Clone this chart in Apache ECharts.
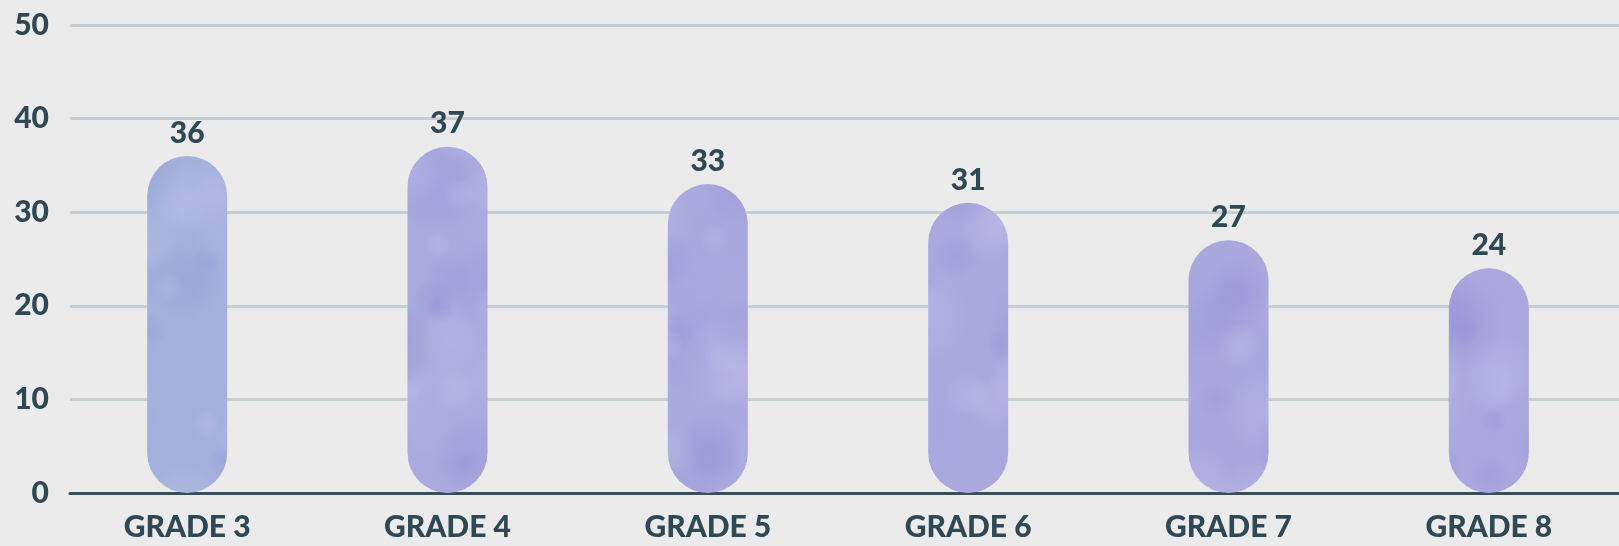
<!DOCTYPE html>
<html>
<head>
<meta charset="utf-8">
<script src="https://cdn.jsdelivr.net/npm/echarts@6/dist/echarts.min.js"></script>
<style>
html,body{margin:0;padding:0;background:#ebebeb;}
#c{width:1619px;height:546px;}
</style>
</head>
<body>
<div id="c"></div>
<script>
const categories = ['GRADE 3','GRADE 4','GRADE 5','GRADE 6','GRADE 7','GRADE 8'];
const values = [36, 37, 33, 31, 27, 24];
const yTicks = [0, 10, 20, 30, 40, 50];

const textColor = '#2e4855';
const font = 'Lato, "Open Sans", sans-serif';

// soft watercolor-like texture (styling only), anchored to the chart canvas
function makeTexture(w, h) {
  const cv = document.createElement('canvas');
  cv.width = w; cv.height = h;
  const g = cv.getContext('2d');
  const base = g.createLinearGradient(0, 0, w, 0);
  base.addColorStop(0, '#a4b0dc');
  base.addColorStop(0.3, '#aba9de');
  base.addColorStop(1, '#aca7de');
  g.fillStyle = base;
  g.fillRect(0, 0, w, h);
  const cols = [[140, 132, 208, 0.22], [196, 196, 238, 0.28], [124, 114, 196, 0.16], [206, 202, 240, 0.24], [160, 168, 222, 0.2]];
  for (let i = 0; i < 420; i++) {
    const x = Math.abs((Math.sin(i * 12.9898) * 43758.5453) % 1);
    const y = Math.abs((Math.sin(i * 78.233) * 12345.6789) % 1);
    const r = 12 + Math.abs((Math.sin(i * 3.17) * 999.1) % 1) * 40;
    const px = x * w, py = y * h;
    const c = cols[i % cols.length];
    const rg = g.createRadialGradient(px, py, 0, px, py, r);
    rg.addColorStop(0, `rgba(${c[0]},${c[1]},${c[2]},${c[3]})`);
    rg.addColorStop(0.6, `rgba(${c[0]},${c[1]},${c[2]},${c[3] * 0.6})`);
    rg.addColorStop(1, `rgba(${c[0]},${c[1]},${c[2]},0)`);
    g.fillStyle = rg;
    g.beginPath(); g.arc(px, py, r, 0, Math.PI * 2); g.fill();
  }
  const tg = g.createLinearGradient(140, 0, 235, 0);
  tg.addColorStop(0, 'rgba(150,192,216,0.22)');
  tg.addColorStop(1, 'rgba(150,192,216,0.12)');
  g.fillStyle = tg;
  g.fillRect(140, 0, 95, h);
  return cv;
}
const tex = makeTexture(1619, 546);

const chart = echarts.init(document.getElementById('c'), null, {renderer: 'canvas'});
chart.setOption({
  backgroundColor: '#ebebeb',
  animation: false,
  grid: [
    {left: 70, right: 0, top: 25, bottom: 53},
    {left: 57, width: 1575, top: 25, bottom: 53}
  ],
  xAxis: [
    {
      type: 'value', gridIndex: 0, min: 0, max: 1,
      axisLine: {show: true, lineStyle: {color: '#34505c', width: 3}},
      axisTick: {show: false}, axisLabel: {show: false}, splitLine: {show: false}
    },
    {
      type: 'category', gridIndex: 1, data: categories,
      axisLine: {show: false}, axisTick: {show: false}, splitLine: {show: false},
      axisLabel: {
        color: textColor, fontFamily: font, fontWeight: 900, fontSize: 30,
        margin: 19
      }
    }
  ],
  yAxis: [
    {
      type: 'value', gridIndex: 0, min: yTicks[0], max: yTicks[yTicks.length - 1], interval: 10,
      axisLine: {show: false}, axisTick: {show: false},
      axisLabel: {color: textColor, fontFamily: font, fontWeight: 900, fontSize: 30, margin: 21},
      splitLine: {lineStyle: {color: '#c6d0d4', width: 3}}
    },
    {
      type: 'value', gridIndex: 1, min: yTicks[0], max: yTicks[yTicks.length - 1],
      show: false, splitLine: {show: false}
    }
  ],
  series: [{
    type: 'bar',
    xAxisIndex: 1, yAxisIndex: 1,
    barWidth: 80,
    data: values,
    itemStyle: {borderRadius: 40, color: {image: tex, repeat: 'no-repeat'}},
    label: {
      show: true, position: 'top', distance: 8,
      color: textColor, fontFamily: font, fontWeight: 900, fontSize: 30
    }
  }]
});
</script>
</body>
</html>
